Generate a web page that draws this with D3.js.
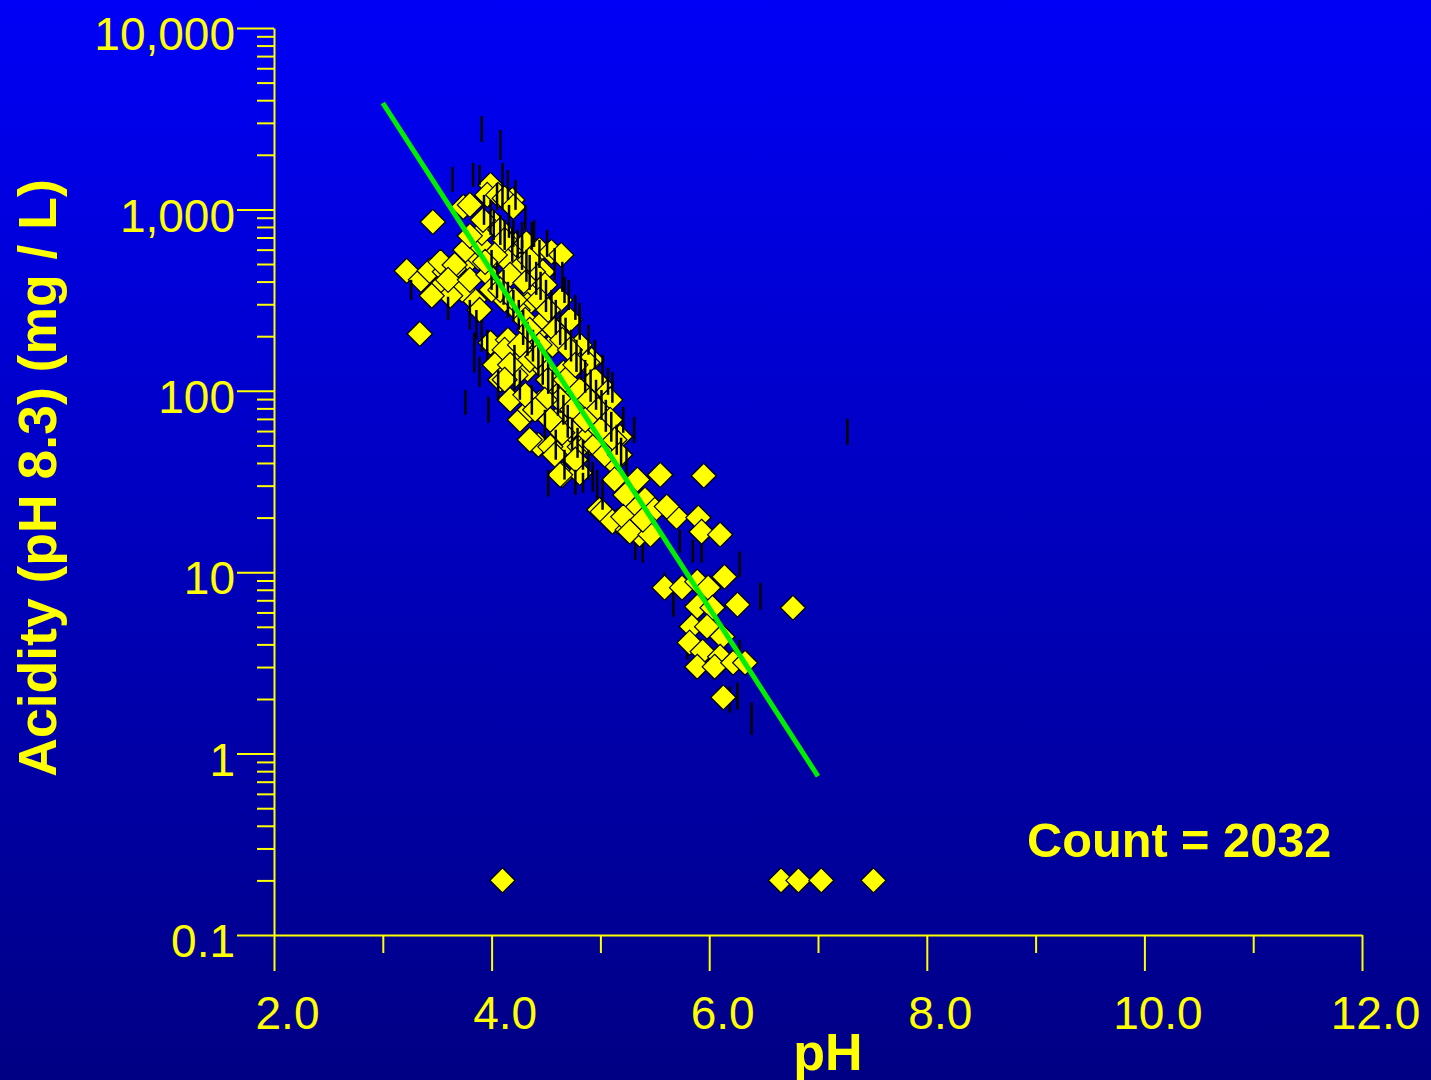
<!DOCTYPE html>
<html><head><meta charset="utf-8">
<script src="https://cdn.jsdelivr.net/npm/d3@7"></script>
<style>html,body{margin:0;padding:0;background:#000080;} svg{display:block;}</style>
</head><body>
<svg id="chart" width="1431" height="1080"></svg>
<script>
// ---- data ----
const xMajorTicks = [2, 4, 6, 8, 10, 12];
const xTickLabels = ["2.0", "4.0", "6.0", "8.0", "10.0", "12.0"];
const xMinorTicks = [3, 5, 7, 9, 11];
const yMajorTicks = [0.1, 1, 10, 100, 1000, 10000];
const yTickLabels = ["0.1", "1", "10", "100", "1,000", "10,000"];

// samples: [pH, acidity mg/L]
const samples = [
[3.22,458],[3.34,206],[3.46,853],[3.35,409],[3.43,458],[3.50,360],[3.57,453],[3.66,399],[3.53,514],[3.69,494],[3.74,1032],[3.80,527],[3.88,540],[3.84,317],[3.73,360],[3.62,334],[3.45,334],
[3.66,494],[3.60,409],[3.76,598],[3.89,637],[3.80,409],[3.97,436],
[3.99,1365],[3.96,1202],[4.06,1202],[4.19,1128],[4.01,853],[3.91,743],[4.08,771],[3.80,715],[3.80,1059],[4.12,1150],[3.92,875],[4.20,1032],
[4.22,637],[4.32,653],[4.44,598],[4.55,583],[4.64,561],[4.47,453],[4.38,453],[4.26,494],[4.12,540],[4.03,561],[3.94,514],[4.17,436],[4.31,394],[4.40,338],[4.33,298],[4.24,279],[4.12,317],[4.00,360],[3.89,279],
[4.12,679],[4.35,527],[4.49,384],[4.63,317],[4.72,246],[4.08,360],[4.21,317],[4.31,246],[4.44,217],[4.56,179],
[3.99,184],[4.15,191],[4.24,158],[4.35,217],[4.49,246],[4.58,217],[4.44,179],[4.33,131],[4.22,122],
[4.12,168],[4.03,139],[4.08,115],[4.35,148],[4.49,131],[4.81,179],[4.92,148],
[4.42,154],[4.61,98.7],[4.44,85.9],[4.33,75.6],[4.60,69.2],[4.88,143],[4.66,126],[4.84,92.7],[5.00,75.6],[5.06,58.7],[4.69,49.1],[4.43,50.4],[4.54,49.1],[4.81,49.1],[4.90,51.7],[4.65,34.4],[4.81,35.3],[5.34,32.4],[5.12,40.1],[5.18,55.8],
[4.52,115],[4.63,89.2],[4.74,78.6],[4.86,61],[4.95,50.4],[5.04,44.4],[4.72,61],[4.58,44.4],[4.35,53.7],[4.26,69.2],[4.17,89.2],[5.00,108],[5.09,89.2],
[4.35,78.6],[4.49,89.2],[4.68,115],[4.81,101],[4.90,89.2],[4.98,78.6],[5.09,69.2],[5.13,53.7],[5.18,44.4],[4.99,22.1],[5.09,19.5],[5.29,19.5],[5.36,16.1],[5.25,17.1],[4.77,41.7],[4.63,34.4],[5.00,61],
[4.44,317],[4.52,279],[4.58,217],[4.65,191],[4.72,168],[4.77,139],[4.26,179],[4.17,139],[4.12,115],[4.31,95],[4.40,78.6],[4.54,69.2],[4.65,58.7],[4.86,69.2],[4.95,115],
[5.13,32.4],[5.23,26.7],[5.41,25.1],[5.50,22.1],[5.32,22.1],[5.16,19],
[5.55,34.4],[5.95,34],[5.02,21.5],[5.21,20.2],[5.27,16.7],[5.46,16.1],[5.70,20.2],[5.90,20],[5.93,16.7],[6.10,16.1],[5.11,19],[5.61,23],[5.39,19.5],
[5.59,8.22],[5.75,8.22],[5.89,8.87],[5.99,8.22],[6.14,9.44],[6.26,6.63],[5.89,6.46],[6.03,6.37],[5.84,5.01],[5.98,5.01],[6.12,4.41],[5.82,4.09],[5.94,3.65],[6.10,3.42],[5.89,3.01],[6.05,3.01],[6.22,3.17],[6.33,3.17],[6.13,2.04],
[6.77,6.37],[4.10,0.2],[6.66,0.2],[6.82,0.2],[7.03,0.2],[7.51,0.2]
];

// vertical range marks: [pH, low acidity, high acidity]
const ranges = [
[3.91,2354,3273],[3.64,1247,1714],[3.83,1330,1804],[3.89,1365,1758],[4.10,994,1804],[4.05,994,1400],[4.20,621,875],[4.28,613,853],[4.39,621,875],[4.51,547,771],[4.67,305,425],[4.81,209,305],[3.26,317,409],[3.60,246,330],[3.84,126,209],[3.89,105,154],[4.06,89.2,131],
[3.76,73.8,101],[3.97,66.7,92.7],[4.52,26.1,36.7],[4.84,27.4,35.3],[5.11,85.9,127],[5.21,58.7,81.6],[5.31,51.7,71.9],[5.32,11.7,16.5],[5.39,11.3,16.5],[5.73,12.8,17.1],[5.85,11.3,15.1],[5.93,11.3,15.1],[6.28,9.44,13],[6.47,6.21,8.75],[5.59,7.33,9.94],[5.67,5.69,8.01],[6.28,3.01,4.25],[6.19,1.68,2.34],[6.26,1.75,2.46],[6.39,1.27,1.91],[5.80,3.30,4.25],[7.27,50.4,70.1],
[3.93,822,1202],[3.99,724,1128],[4.02,679,994],[4.08,637,933],[4.12,598,875],[4.16,697,1059],[4.19,514,791],[4.24,540,771],[4.28,464,679],[4.32,399,598],[4.35,360,561],[4.41,338,514],[4.45,317,453],[4.50,272,409],[4.55,246,360],[4.59,204,317],[4.63,179,272],[4.68,168,253],[4.73,145,217],[4.78,127,191],[4.82,115,172],[4.86,97.5,148],[4.91,86.9,131],[4.96,78.6,115],[5.01,69.2,101],[5.05,59.4,89.2],[5.10,52.4,76.6],[5.15,44.4,65],[5.19,38.6,55.1],[5.24,33.2,48.5],
[4.00,360,598],[4.05,325,514],[4.11,298,464],[4.15,253,399],[4.20,240,360],[4.25,217,317],[4.29,179,279],[4.33,156,240],[4.38,145,217],[4.43,122,191],[4.47,108,164],[4.52,96.2,145],[4.56,83.7,127],[4.61,72.8,109],[4.66,65,95],[4.70,55.1,83.7],[4.74,47.3,71],[4.79,42.7,62.5],[4.84,36.7,53.7],[4.89,32.4,47.3],[4.93,27.8,40.6],[4.97,25.1,36.7],[5.02,22.1,32.4],
[4.31,771,1059],[4.37,598,853],[4.44,476,679],[4.58,409,613],[4.65,351,514],[4.71,279,409],[4.77,246,338],[4.81,191,279],[4.89,158,231],[4.95,131,191],[5.02,108,158],[5.07,95,134],
[3.80,217,317],[3.86,191,279],[3.91,164,246],[3.96,148,217],[4.21,101,179],[4.26,89.2,131],[4.37,73.8,108],[4.49,53.7,78.6],[4.59,41.7,61],[4.67,32.4,47.3],[4.77,26.7,36.7],
[4.08,1875,2742],[4.15,1128,1650],[4.22,994,1455]
];

// regression line end points
const fitPH = [3.0, 7.0];
const fitAcidity = [3860, 0.75];

const xTitle = "pH";
const yTitle = "Acidity (pH 8.3) (mg / L)";
const countLabel = "Count = 2032";

// ---- drawing ----
const W = 1431, H = 1080;
const FONT = "'Liberation Sans', Arial, Helvetica, sans-serif";
const YEL = "#FFFF00";
const svg = d3.select("#chart");

const defs = svg.append("defs");
const grad = defs.append("linearGradient").attr("id", "bg").attr("x1", 0).attr("y1", 0).attr("x2", 0).attr("y2", 1);
grad.append("stop").attr("offset", "0%").attr("stop-color", "#0000F6");
grad.append("stop").attr("offset", "100%").attr("stop-color", "#000084");
svg.append("rect").attr("width", W).attr("height", H).attr("fill", "url(#bg)");

const x = d3.scaleLinear().domain([2, 12]).range([274, 1362]);
const y = d3.scaleLog().domain([0.1, 10000]).range([935, 28]);

// Y axis
const yAxisG = svg.append("g").attr("transform", "translate(274,0)");
yAxisG.call(d3.axisLeft(y).tickValues(yMajorTicks).tickSize(37).tickSizeOuter(0).tickPadding(2)
  .tickFormat((d, i) => yTickLabels[i]));
const yMinor = y.ticks().filter(v => !yMajorTicks.some(m => Math.abs(m - v) / m < 1e-9));
const yMinorG = svg.append("g").attr("transform", "translate(274,0)");
yMinorG.call(d3.axisLeft(y).tickValues(yMinor).tickSize(17).tickFormat(""));
yMinorG.select(".domain").remove();

// X axis
const xAxisG = svg.append("g").attr("transform", "translate(0,935)");
xAxisG.call(d3.axisBottom(x).tickValues(xMajorTicks).tickSize(36).tickSizeOuter(0).tickPadding(25)
  .tickFormat((d, i) => xTickLabels[i]));
const xMinorG = svg.append("g").attr("transform", "translate(0,935)");
xMinorG.call(d3.axisBottom(x).tickValues(xMinorTicks).tickSize(18).tickFormat(""));
xMinorG.select(".domain").remove();

svg.selectAll(".domain, .tick line").attr("stroke", YEL).attr("stroke-width", 2);
yAxisG.selectAll(".tick text").attr("fill", YEL).attr("font-family", FONT).attr("font-size", 46).attr("dy", "0.47em");
xAxisG.selectAll(".tick text").attr("fill", YEL).attr("font-family", FONT).attr("font-size", 46).attr("dx", 13);

// data layers
const diamond = "M0,-12.5L12.5,0L0,12.5L-12.5,0Z";
function drawDiamonds(data) {
  svg.append("g").selectAll("path").data(data).join("path")
    .attr("d", diamond)
    .attr("transform", d => `translate(${x(d[0])},${y(d[1])})`)
    .attr("fill", "#FFFF00").attr("stroke", "#000").attr("stroke-width", 1.2);
}
drawDiamonds(samples.filter(d => d[0] < 5.2));
svg.append("g").selectAll("line").data(ranges).join("line")
  .attr("x1", d => x(d[0])).attr("x2", d => x(d[0]))
  .attr("y1", d => y(d[1])).attr("y2", d => y(d[2]))
  .attr("stroke", "#000").attr("stroke-width", 2.5);
drawDiamonds(samples.filter(d => d[0] >= 5.2));

// regression line
svg.append("path")
  .datum(fitPH.map((p, i) => [p, fitAcidity[i]]))
  .attr("d", d3.line().x(d => x(d[0])).y(d => y(d[1])))
  .attr("stroke", "#00EE00").attr("stroke-width", 5).attr("fill", "none");

// titles
svg.append("text").attr("x", 828).attr("y", 1070).attr("text-anchor", "middle")
  .attr("font-family", FONT).attr("font-weight", "bold").attr("font-size", 52).attr("fill", YEL).text(xTitle);
svg.append("text").attr("transform", "translate(56,478) rotate(-90)").attr("text-anchor", "middle")
  .attr("font-family", FONT).attr("font-weight", "bold").attr("font-size", 53.5).attr("fill", YEL).text(yTitle);
svg.append("text").attr("x", 1027).attr("y", 857)
  .attr("font-family", FONT).attr("font-weight", "bold").attr("font-size", 48.7).attr("fill", YEL).text(countLabel);
</script>
</body></html>
